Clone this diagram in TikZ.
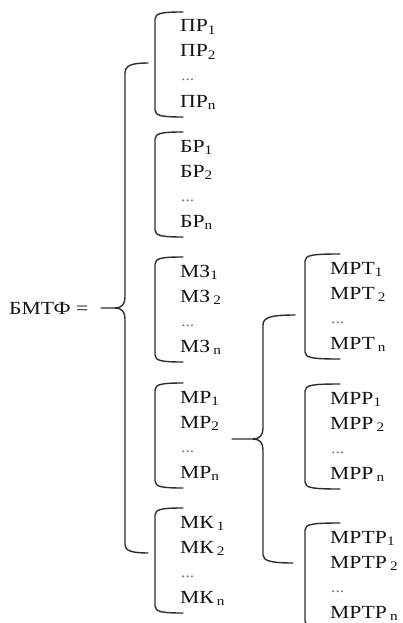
\documentclass[tikz,border=0pt]{standalone}
\usepackage{fontspec}
\setmainfont[FakeStretch=1.17]{Liberation Serif}

% lowered index after a label
\newcommand\subidx[1]{\raisebox{-2.5pt}{\fontsize{13}{13}\selectfont #1}}

% one bracketed group: name, x of the bracket, top y, hook length, three labels
\newcommand\grp[7]{%
  \draw[brk] (#2+#4,#3) .. controls (#2+8,#3) and (#2,#3+1) .. (#2,#3+7)
    -- (#2,#3+98) .. controls (#2,#3+104) and (#2+8,#3+105) .. (#2+#4,#3+105);
  \node[lbl] (#1-1) at (#2+25,#3+20) {#5};
  \node[lbl] (#1-2) at (#2+25,#3+45) {#6};
  \node[dts] (#1-d) at (#2+26,#3+69) {...};
  \node[lbl] (#1-n) at (#2+25,#3+95) {#7};
}

\begin{document}
\begin{tikzpicture}[x=1pt,y=-1pt,
  brk/.style={draw=black!82,line width=1.4pt,line cap=round,line join=round},
  lbl/.style={anchor=base west,inner sep=0pt,text=black!92,
              font=\fontsize{18.5}{20}\selectfont},
  dts/.style={anchor=base west,inner sep=0pt,text=black!55,
              font=\fontsize{15}{16}\selectfont}]
  \fill[white] (0,0) rectangle (403,623);
  \useasboundingbox (0,0) rectangle (403,623);
  \clip (0,0) rectangle (403,623);

  % left-hand side of the definition
  \node[lbl] (bmtf) at (9,314) {БМТФ =};

  % main brace
  \draw[brk] (148,63) .. controls (133,63) and (125,65) .. (125,73)
    -- (125,297) .. controls (125,304) and (122,308) .. (115,308) -- (101,308);
  \draw[brk] (115,308) .. controls (122,308) and (125,312) .. (125,319)
    -- (125,545) .. controls (125,551) and (133,553) .. (148,553);

  % first-level groups
  \grp{pr}{155}{12}{28}{ПР\subidx{1}}{ПР\subidx{2}}{ПР\subidx{n}}
  \grp{br}{155}{132}{28}{БР\subidx{1}}{БР\subidx{2}}{БР\subidx{n}}
  \grp{mz}{155}{257}{28}{МЗ\subidx{1}}{МЗ\hspace{3pt}\subidx{2}}{МЗ\hspace{3pt}\subidx{n}}
  \grp{mr}{155}{383}{28}{МР\subidx{1}}{МР\subidx{2}}{МР\subidx{n}}
  \grp{mk}{155}{508}{28}{МК\hspace{3pt}\subidx{1}}{МК\hspace{3pt}\subidx{2}}{МК\hspace{3pt}\subidx{n}}

  % brace opening the МР breakdown
  \draw[brk] (295,315) .. controls (272,315) and (263,317) .. (263,325)
    -- (263,428) .. controls (263,435) and (260,439) .. (253,439) -- (232,439);
  \draw[brk] (253,439) .. controls (260,439) and (263,443) .. (263,450)
    -- (263,555) .. controls (263,561) and (272,563) .. (293,563);

  % second-level groups
  \grp{mrt}{305}{254}{35}{МРТ\subidx{1}}{МРТ\hspace{3pt}\subidx{2}}{МРТ\hspace{3pt}\subidx{n}}
  \grp{mrr}{305}{384}{35}{МРР\subidx{1}}{МРР\hspace{3pt}\subidx{2}}{МРР\hspace{3pt}\subidx{n}}
  \grp{mrtr}{305}{523}{35}{МРТР\subidx{1}}{МРТР\hspace{3pt}\subidx{2}}{МРТР\hspace{3pt}\subidx{n}}
\end{tikzpicture}
\end{document}
